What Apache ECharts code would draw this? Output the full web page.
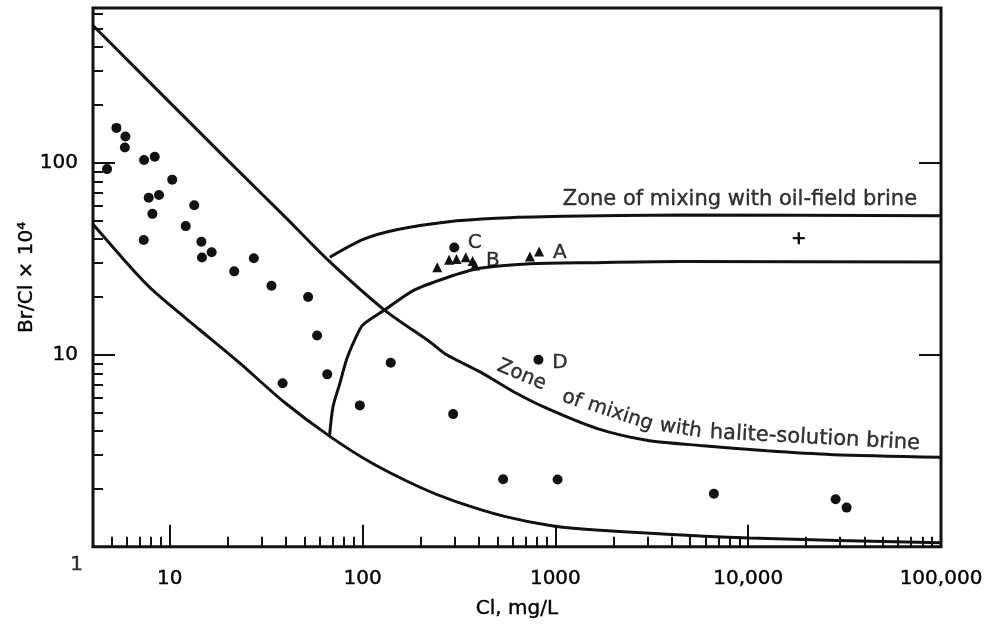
<!DOCTYPE html>
<html>
<head>
<meta charset="utf-8">
<title>Br/Cl versus Cl</title>
<script src="https://cdn.jsdelivr.net/npm/echarts@6.0.0/dist/echarts.min.js"></script>
<style>
  html, body { margin: 0; padding: 0; background: #fff; }
  #chart { width: 989px; height: 624px; }
</style>
</head>
<body>
<div id="chart"></div>
<script>
// ground-water samples (dots)
var wellCl = [4.73, 5.29, 5.89, 5.85, 7.36, 8.36, 10.3, 7.78, 8.8, 8.13, 13.4, 12.1, 7.33, 14.6, 14.7, 16.5, 21.6, 27.3, 33.7, 52.2, 58.1, 38.5, 65.6, 140, 96.8, 295, 536, 1027, 817, 299, 6640, 28400, 32400];
var wellRatio = [92.7, 152, 137, 120, 103.5, 107.6, 81.7, 65.8, 67.9, 54.2, 60.1, 46.8, 39.6, 38.8, 32.1, 34.2, 27.2, 31.8, 22.9, 20.0, 12.6, 7.11, 7.91, 9.1, 5.45, 4.91, 2.25, 2.24, 9.42, 36.2, 1.89, 1.77, 1.6];

// triangles near B and A
var triCl = [244, 281, 307, 343, 372, 383, 738, 824];
var triRatio = [28.6, 31.3, 31.5, 32.2, 30.8, 29.2, 32.5, 34.5];

// the single cross
var crossCl = [18300];
var crossRatio = [40.5];

// zone of mixing with halite-solution brine, upper and lower bounds
var halUpperCl = [4, 20, 40, 65, 130, 223, 273, 405, 604, 900, 1636, 2973, 5625, 12480, 27560, 100000];
var halUpperRatio = [519, 103, 51.8, 31.7, 17.1, 11.7, 10.0, 8.17, 6.44, 5.27, 4.14, 3.59, 3.37, 3.16, 3.02, 2.93];
var halLowerCl = [4, 6.71, 8.54, 14.3, 23.1, 38.7, 67.4, 111, 201, 300, 545, 990, 1700, 10200, 100000];
var halLowerRatio = [47.9, 26.5, 20.8, 13.5, 9.04, 5.73, 3.77, 2.74, 2.03, 1.73, 1.44, 1.28, 1.22, 1.11, 1.05];

// zone of mixing with oil-field brine, upper and lower bounds
var oilUpperCl = [67.6, 100.7, 150, 273, 495, 1099, 4430, 100000];
var oilUpperRatio = [32.2, 39.9, 44.8, 49.2, 51.4, 52.6, 53.5, 53.0];
var oilLowerCl = [67.4, 70.3, 76.2, 82.8, 91.2, 100.3, 130, 183, 273, 405, 738, 1636, 4430, 100000];
var oilLowerRatio = [3.77, 5.38, 7.08, 9.5, 12.0, 14.3, 17.1, 21.6, 25.2, 28.2, 29.8, 30.2, 30.6, 30.4];

// letters next to samples
var letterText = ['A', 'B', 'C', 'D'];
var letterCl = [1055, 474, 382, 1055];
var letterRatio = [33.9, 31.0, 38.5, 9.1];

// zone captions, the halite one is bent along its curve in pieces
var zoneText = ['Zone of mixing with oil-field brine', 'Zone', 'of', 'mixing', 'with', 'halite-solution brine'];
var zoneCl = [9060, 668, 1218, 2170, 4460, 22180];
var zoneRatio = [64.3, 7.84, 5.87, 4.88, 4.12, 3.68];
var zoneAngle = [0, -23, -20, -18, -9, -3];
var zoneSize = [21, 20, 20, 20, 20, 21];

// axis ticks and labels
var xMinorTicks = [5, 6, 7, 8, 9, 20, 30, 40, 50, 60, 70, 80, 90, 200, 300, 400, 500, 600, 700, 800, 900,
    2000, 3000, 4000, 5000, 6000, 7000, 8000, 9000, 20000, 30000, 40000, 50000, 60000, 70000, 80000, 90000];
var xMajorTicks = [10, 100, 1000, 10000, 100000];
var xLabelText = ['10', '100', '1000', '10,000', '100,000'];
var yMinorTicks = [2, 3, 4, 5, 6, 7, 8, 9, 20, 30, 40, 50, 60, 70, 80, 90, 200, 300, 400, 500, 600];
var yMajorTicks = [10, 100];
var yLabelValues = [1, 10, 100];
var yLabelText = ['1', '10', '100'];

var X_MIN = 4;
var X_MAX = 100000;
var Y_MIN = 1;
var Y_MAX = 640;

var FONT = '"DejaVu Sans", sans-serif';
var INK = '#000';

function pairs(xs, ys) {
    return xs.map(function (x, i) { return [x, ys[i]]; });
}

function curve(xs, ys) {
    return {
        type: 'line',
        data: pairs(xs, ys),
        showSymbol: false,
        smooth: 0.25,
        lineStyle: {color: '#111', width: 3},
        silent: true,
        z: 2
    };
}

function logAxis(extra) {
    var base = {
        type: 'log',
        logBase: 10,
        splitLine: {show: false},
        axisLine: {show: false},
        axisLabel: {show: false},
        axisTick: {show: false}
    };
    return Object.assign(base, extra);
}

function tickStyle(values, len) {
    return {show: true, inside: true, length: len, customValues: values, lineStyle: {color: '#111', width: 2}};
}

function yLabel(v) {
    return yLabelText[yLabelValues.indexOf(Math.round(v))];
}

var textLook = {fontFamily: FONT, color: INK, textBorderColor: INK, textBorderWidth: 0.4};

var chart = echarts.init(document.getElementById('chart'));

var option = {
    animation: false,
    backgroundColor: '#fff',
    grid: {left: 93, right: 48, top: 8, bottom: 70, show: true, borderColor: '#111', borderWidth: 3},
    xAxis: [
        logAxis({
            min: X_MIN, max: X_MAX,
            name: 'Cl, mg/L', nameLocation: 'middle', nameGap: 52,
            nameTextStyle: Object.assign({fontSize: 20}, textLook),
            axisTick: tickStyle(xMinorTicks, 10),
            axisLabel: Object.assign({
                show: true, customValues: xMajorTicks, margin: 22, fontSize: 20,
                formatter: function (v) {
                    return xLabelText[Math.round(Math.log10(v)) - 1];
                }
            }, textLook)
        }),
        logAxis({min: X_MIN, max: X_MAX, position: 'bottom', axisTick: tickStyle(xMajorTicks, 22)})
    ],
    yAxis: [
        logAxis({
            min: Y_MIN, max: Y_MAX,
            name: 'Br/Cl \u00d7 10\u2074', nameLocation: 'middle', nameGap: 56, nameRotate: 90,
            nameMoveOverlap: false,
            nameTextStyle: Object.assign({fontSize: 20}, textLook),
            axisTick: tickStyle(yMinorTicks, 10),
            axisLabel: Object.assign({
                show: true, customValues: yLabelValues.slice(1), margin: 15, fontSize: 20,
                formatter: yLabel
            }, textLook)
        }),
        logAxis({min: Y_MIN, max: Y_MAX, position: 'left', axisTick: tickStyle(yMajorTicks, 22)}),
        logAxis({min: Y_MIN, max: Y_MAX, position: 'right', axisTick: tickStyle(yMajorTicks, 22)})
    ],
    series: [
        curve(halUpperCl, halUpperRatio),
        curve(halLowerCl, halLowerRatio),
        curve(oilUpperCl, oilUpperRatio),
        curve(oilLowerCl, oilLowerRatio),
        {
            type: 'scatter',
            data: pairs(wellCl, wellRatio),
            symbol: 'circle', symbolSize: 10,
            itemStyle: {color: '#111', opacity: 1},
            z: 3
        },
        {
            type: 'scatter',
            data: pairs(triCl, triRatio),
            symbol: 'triangle', symbolSize: 10,
            itemStyle: {color: '#111', opacity: 1},
            z: 3
        },
        {
            type: 'scatter',
            data: pairs(crossCl, crossRatio),
            symbol: 'path://M4,0h2v4h4v2h-4v4h-2v-4h-4v-2h4z', symbolSize: 12,
            itemStyle: {color: '#111', opacity: 1},
            z: 3
        },
        {
            type: 'scatter',
            symbolSize: 0,
            silent: true,
            data: letterText.map(function (t, i) {
                return {value: [letterCl[i], letterRatio[i]], name: t};
            }),
            label: Object.assign({show: true, position: 'inside', formatter: '{b}', fontSize: 20}, textLook),
            z: 4
        },
        {
            type: 'scatter',
            symbolSize: 0,
            silent: true,
            data: zoneText.map(function (t, i) {
                return {
                    value: [zoneCl[i], zoneRatio[i]], name: t,
                    label: {rotate: zoneAngle[i], fontSize: zoneSize[i]}
                };
            }),
            label: Object.assign({show: true, position: 'inside', formatter: '{b}'}, textLook),
            z: 4
        },
        {
            // the "1" of the y axis hangs a little below the corner
            type: 'scatter',
            symbolSize: 0,
            silent: true,
            clip: false,
            data: [{value: [X_MIN, yLabelValues[0]], name: yLabelText[0]}],
            label: Object.assign({show: true, position: 'left', distance: 10, offset: [0, 18],
                formatter: '{b}', fontSize: 20}, textLook),
            z: 4
        }
    ]
};

chart.setOption(option);
</script>
</body>
</html>
